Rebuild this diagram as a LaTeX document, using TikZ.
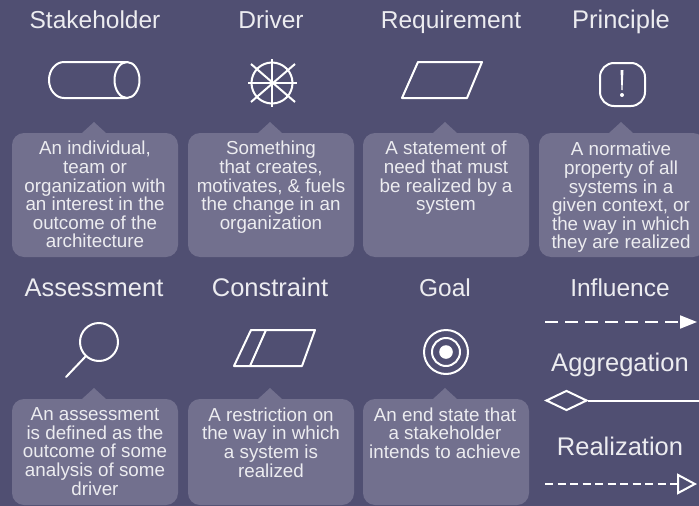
\documentclass[tikz,border=0pt]{standalone}
\usepackage{fontspec}
\setmainfont{Liberation Sans}
\usetikzlibrary{arrows.meta}
\usetikzlibrary{shapes.geometric}
\definecolor{bgcol}{HTML}{504F72}
\definecolor{boxcol}{HTML}{72708E}
\definecolor{inkcol}{HTML}{ECECF0}
\tikzset{title/.style = {anchor=base, inner sep=0, text=inkcol, font=\fontsize{24.5}{28}\selectfont}}
\tikzset{bigtitle/.style = {title, font=\fontsize{25.5}{28}\selectfont}}
\tikzset{descbox/.style = {fill=boxcol, rounded corners=12pt, inner sep=0, minimum width=166pt}}
\tikzset{desc/.style = {anchor=north, inner sep=0, align=center, text=inkcol, font=\fontsize{18.8}{18.6}\selectfont}}
\tikzset{tail/.style = {fill=boxcol}}
\tikzset{icon/.style = {draw=white, line width=2pt, line join=round}}
\begin{document}
\begin{tikzpicture}[x=1pt, y=-1pt]
      \fill [bgcol] (0, 0) rectangle (699, 506);
      \useasboundingbox (0, 0) rectangle (699, 506);

      \node [title] (stakeholder) at (95, 28) {Stakeholder};
      \node [title] (driver) at (271, 28) {Driver};
      \node [title] (requirement) at (451, 28) {Requirement};
      \node [bigtitle] (principle) at (621, 28) {Principle};
      \node [bigtitle] (assessment) at (94, 296) {Assessment};
      \node [bigtitle] (constraint) at (270, 296) {Constraint};
      \node [title] (goal) at (445, 296) {Goal};
      \node [title] (influence) at (620, 296) {Influence};
      \node [bigtitle] (aggregation) at (620, 371) {Aggregation};
      \node [bigtitle] (realization) at (620, 455) {Realization};

      \fill [tail] (82, 133) -- (94, 122) -- (106, 133);
      \fill [tail] (258, 133) -- (270, 122) -- (282, 133);
      \fill [tail] (433, 133) -- (445, 122) -- (457, 133);
      \fill [tail] (609, 133) -- (621, 122) -- (633, 133);
      \fill [tail] (82, 399) -- (94, 388) -- (106, 399);
      \fill [tail] (258, 399) -- (270, 388) -- (282, 399);
      \fill [tail] (433, 399) -- (445, 388) -- (457, 399);

      \node [descbox, minimum height=124pt] (stakeholderbox) at (95, 195) {};
      \node [descbox, minimum height=124pt] (driverbox) at (271, 195) {};
      \node [descbox, minimum height=124pt] (requirementbox) at (446, 195) {};
      \node [descbox, minimum height=124pt] (principlebox) at (622, 195) {};
      \node [descbox, minimum height=106pt] (assessmentbox) at (95, 452) {};
      \node [descbox, minimum height=106pt] (constraintbox) at (271, 452) {};
      \node [descbox, minimum height=106pt] (goalbox) at (446, 452) {};

      \node [desc] (stakeholdertext) at (95, 141) {An individual,\\team or\\organization with\\an interest in the\\outcome of the\\architecture};
      \node [desc] (drivertext) at (271, 141) {Something\\that creates,\\motivates, \& fuels\\the change in an\\organization};
      \node [desc] (requirementtext) at (446, 141) {A statement of\\need that must\\be realized by a\\system};
      \node [desc] (principletext) at (621, 142) {A normative\\property of all\\systems in a\\given context, or\\the way in which\\they are realized};
      \node [desc] (assessmenttext) at (95, 407.5) {An assessment\\is defined as the\\outcome of some\\analysis of some\\driver};
      \node [desc] (constrainttext) at (271, 407.5) {A restriction on\\the way in which\\a system is\\realized};
      \node [desc] (goaltext) at (445, 407.5) {An end state that\\a stakeholder\\intends to achieve};

      \draw [icon] (127, 62) -- (64, 62) arc [start angle=270, end angle=90, x radius=15, y radius=18] -- (127, 98);
      \draw [icon] (127, 80) ellipse [x radius=12.5, y radius=18];

      \draw [icon] (272, 83) circle [radius=20.5];
      \draw [icon] (272, 59) -- (272, 107);
      \draw [icon] (248, 83) -- (297, 83);
      \draw [icon] (251, 64) -- (295, 102);
      \draw [icon] (295, 64) -- (251, 102);

      \draw [icon] (418, 62) -- (482, 62) -- (467, 98) -- (402, 98) -- cycle;

      \draw [icon, rounded corners=14pt] (600, 63) rectangle (645, 106);
      \fill [white] (620.5, 70) -- (623.5, 70) -- (622.5, 90) -- (621.5, 90) -- cycle;
      \fill [white] (622, 95) circle [radius=2];

      \draw [icon] (99, 342) circle [radius=19];
      \draw [icon, line cap=round] (86, 356) -- (66, 377);

      \draw [icon] (251, 330) -- (315, 330) -- (302, 366) -- (234, 366) -- cycle;
      \draw [icon] (266, 330) -- (250, 366);

      \draw [icon] (446, 352) circle [radius=22];
      \draw [icon] (446, 352) circle [radius=14];
      \fill [white] (446, 352) circle [radius=6.8];

      \coordinate (influencestart) at (545, 322);
      \coordinate (influenceend) at (697, 322);
      \draw [white, line width=2pt, dash pattern=on 13pt off 7pt, -{Triangle[length=17pt, width=13pt]}] (influencestart) -- (influenceend);

      \node [diamond, draw=white, line width=2pt, aspect=2, inner sep=0, minimum width=41pt, minimum height=20pt] (aggregationtip) at (566.5, 400.5) {};
      \coordinate (aggregationend) at (699, 400.5);
      \draw [white, line width=2pt] (aggregationtip) -- (aggregationend);

      \coordinate (realizationstart) at (545, 484);
      \coordinate (realizationend) at (697, 484);
      \draw [white, line width=2pt, dash pattern=on 8pt off 4.5pt, -{Triangle[open, length=20pt, width=21pt]}] (realizationstart) -- (realizationend);
    \end{tikzpicture}
\end{document}
